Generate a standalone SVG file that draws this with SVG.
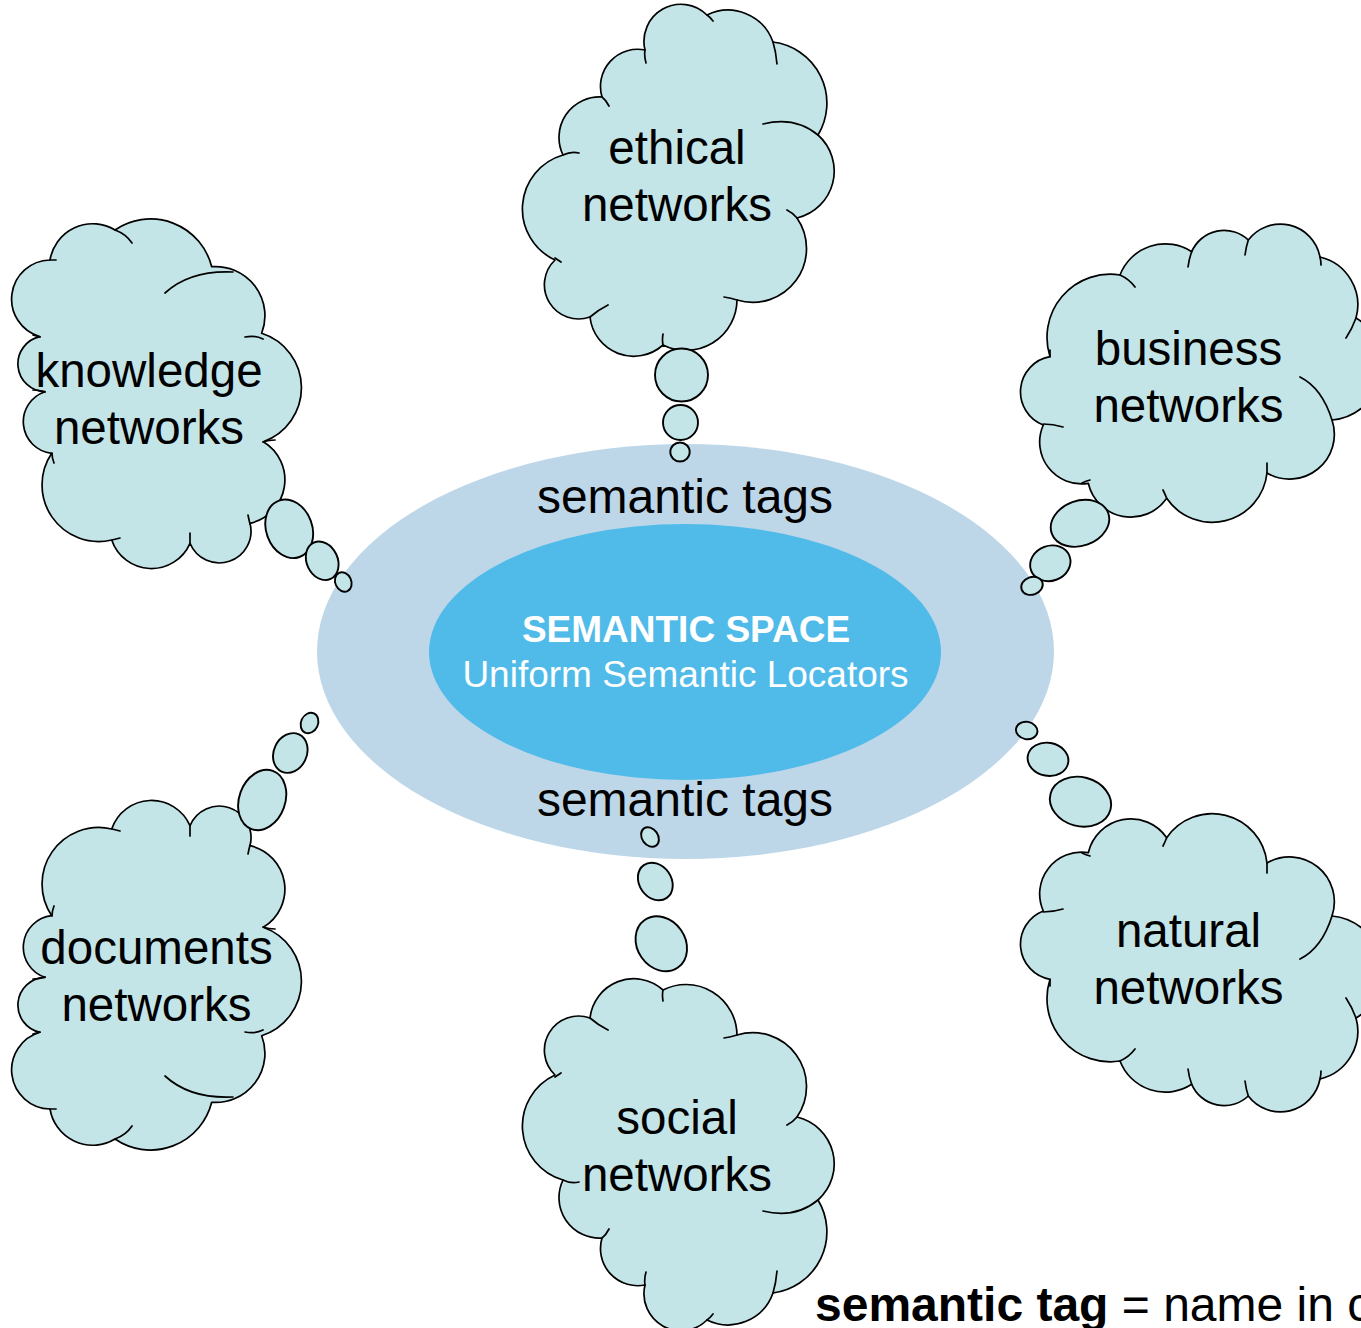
<svg xmlns="http://www.w3.org/2000/svg" width="1361" height="1328" viewBox="0 0 1361 1328">
<style>
.cloud{fill:#C4E5E8;stroke:#000;stroke-width:1.7;stroke-linejoin:round}
.crease{fill:none;stroke:#000;stroke-width:1.7;stroke-linecap:round}
.bubble{fill:#C4E5E8;stroke:#000;stroke-width:1.9}
.t{font-family:"Liberation Sans",Arial,Helvetica,sans-serif;font-size:47.5px;text-anchor:middle;fill:#000}
.tag{font-family:"Liberation Sans",Arial,Helvetica,sans-serif;font-size:48px;text-anchor:middle;fill:#000}
.w{font-family:"Liberation Sans",Arial,Helvetica,sans-serif;font-size:37px;text-anchor:middle;fill:#fff}
</style>
<defs>
<path id="cloudE" d="M555,260 A56.2,56.2 0 0 1 563,155 A40.5,40.5 0 0 1 602,97 A37.2,37.2 0 0 1 645,50 A37,37 0 0 1 707,15 A47.7,47.7 0 0 1 773,42 A61.6,61.6 0 0 1 818,135 A48.2,48.2 0 0 1 797,218 A53.8,53.8 0 0 1 737,300 A51,51 0 0 1 663,345 A43.9,43.9 0 0 1 590,317 A34.2,34.2 0 0 1 555,260 Z"/>
<path id="creaseE" d="M563,155 Q571,151 579,153 M602,97 Q606,100 609,106 M645,50 Q644,56 646,63 M707,15 Q710,17 713,21 M773,42 Q776,52 777,64 M763,124 Q795,116 818,135 M787,210 Q793,213 797,218 M724,297 Q731,298 737,300 M663,345 Q662,340 663,334 M590,317 Q598,310 608,305 M555,258 Q558,260 561,262"/>
<path id="cloudK" d="M50,260 A43.2,43.2 0 0 1 115,230 A63,63 0 0 1 211.7,266.7 A49.2,49.2 0 0 1 261.7,333.3 A57.2,57.2 0 0 1 263.3,441.7 A44.5,44.5 0 0 1 250,523.3 A31.7,31.7 0 0 1 190,543.3 A42,42 0 0 1 111.7,540 A56.6,56.6 0 0 1 51.7,453.3 A31.7,31.7 0 0 1 45,391.7 A27.8,27.8 0 0 1 40,336.7 A39.1,39.1 0 0 1 50,260 Z"/>
<path id="creaseK" d="M115,230 Q126,234 132,243 M165,293 Q190,270 233,272 M245,337 Q255,335 263,339 M263,442 Q269,440 275,440 M248,515 Q249,520 250,524 M190,533 Q190,538 190,543 M120,538 Q116,539 112,540 M52,453 Q52,458 54,463 M33,390 Q40,390 45,392 M40,337 Q36,336 33,335 M50,260 Q53,260 56,260"/>
<path id="cloudB" d="M1050,356.7 A63.2,63.2 0 0 1 1120,275 A48.5,48.5 0 0 1 1191.7,251.7 A35.3,35.3 0 0 1 1248.3,240 A40.3,40.3 0 0 1 1320,257 A49.2,49.2 0 0 1 1356,318 A55.2,55.2 0 0 1 1332,420 A44.8,44.8 0 0 1 1267,473 A55.1,55.1 0 0 1 1166.7,498.3 A43.6,43.6 0 0 1 1088.3,483.3 A41.8,41.8 0 0 1 1043.3,425 A35.6,35.6 0 0 1 1050,356.7 Z"/>
<path id="creaseB" d="M1120,275 Q1129,279 1135,287 M1191.7,251.7 Q1189,259 1188,267 M1248.3,240 Q1246,247 1245,255 M1320,257 Q1321,261 1321,265 M1356,318 Q1352,329 1346,338 M1300,377 Q1322,388 1332,420 M1267,463 Q1267,468 1267,473 M1163,490 Q1165,494 1166.7,498.3 M1082,483 Q1086,481 1090,480 M1063,427 Q1053,424 1043.3,424 M1050,356.7 Q1050,353 1050,350"/>
</defs>

<g id="semantic-space">
<ellipse cx="685.5" cy="651.5" rx="368.5" ry="207.5" fill="#BDD7E9"/>
<ellipse cx="685" cy="652" rx="256" ry="128" fill="#50BBE8"/>
<text class="w" x="686" y="642" font-weight="bold">SEMANTIC SPACE</text>
<text class="w" x="685.5" y="687">Uniform Semantic Locators</text>
<text class="tag" x="685" y="513">semantic tags</text>
<text class="tag" x="685" y="816">semantic tags</text>
</g>

<g id="connectors"></g>

<g id="ethical-networks">
<use href="#cloudE" class="cloud"/>
<use href="#creaseE" class="crease"/>
<circle class="bubble" cx="681.5" cy="375" r="26.5"/>
<circle class="bubble" cx="680.5" cy="422.5" r="17.5"/>
<ellipse class="bubble" cx="680" cy="452" rx="9.7" ry="9.5"/>
<text class="t" x="677" y="164">ethical</text>
<text class="t" x="677" y="221">networks</text>
</g>

<g id="social-networks">
<g transform="translate(0,1335) scale(1,-1)">
<use href="#cloudE" class="cloud"/>
<use href="#creaseE" class="crease"/>
</g>
<ellipse class="bubble" cx="650" cy="837" rx="10.5" ry="8" transform="rotate(55 650 837)"/>
<ellipse class="bubble" cx="655.3" cy="881.5" rx="20" ry="16" transform="rotate(55 655.3 881.5)"/>
<ellipse class="bubble" cx="661.3" cy="943.8" rx="29" ry="24" transform="rotate(55 661.3 943.8)"/>
<text class="t" x="677" y="1134">social</text>
<text class="t" x="677" y="1191">networks</text>
</g>

<g id="knowledge-networks">
<use href="#cloudK" class="cloud"/>
<use href="#creaseK" class="crease"/>
<ellipse class="bubble" cx="289.2" cy="528.8" rx="30" ry="23" transform="rotate(70 289.2 528.8)"/>
<ellipse class="bubble" cx="322.2" cy="560.8" rx="20" ry="15.5" transform="rotate(65 322.2 560.8)"/>
<ellipse class="bubble" cx="343.3" cy="582" rx="10" ry="8" transform="rotate(65 343.3 582)"/>
<text class="t" x="149" y="387">knowledge</text>
<text class="t" x="149" y="444">networks</text>
</g>

<g id="documents-networks">
<g transform="translate(0,1369) scale(1,-1)">
<use href="#cloudK" class="cloud"/>
<use href="#creaseK" class="crease"/>
</g>
<ellipse class="bubble" cx="309.5" cy="723" rx="10.5" ry="8.5" transform="rotate(-65 309.5 723)"/>
<ellipse class="bubble" cx="290.3" cy="753" rx="20.5" ry="16.5" transform="rotate(-65 290.3 753)"/>
<ellipse class="bubble" cx="262.2" cy="800" rx="31" ry="23" transform="rotate(-70 262.2 800)"/>
<text class="t" x="156.5" y="964">documents</text>
<text class="t" x="156.5" y="1021">networks</text>
</g>

<g id="business-networks">
<use href="#cloudB" class="cloud"/>
<use href="#creaseB" class="crease"/>
<ellipse class="bubble" cx="1080" cy="523.3" rx="30" ry="22.5" transform="rotate(-20 1080 523.3)"/>
<ellipse class="bubble" cx="1050.3" cy="563.3" rx="20.5" ry="17.5" transform="rotate(-20 1050.3 563.3)"/>
<ellipse class="bubble" cx="1032" cy="585.8" rx="11" ry="8.8" transform="rotate(-20 1032 585.8)"/>
<text class="t" x="1188.5" y="365">business</text>
<text class="t" x="1188.5" y="422">networks</text>
</g>

<g id="natural-networks">
<g transform="translate(0,1336) scale(1,-1)">
<use href="#cloudB" class="cloud"/>
<use href="#creaseB" class="crease"/>
</g>
<ellipse class="bubble" cx="1026.7" cy="730.5" rx="10.8" ry="8.7" transform="rotate(10 1026.7 730.5)"/>
<ellipse class="bubble" cx="1048" cy="759.3" rx="20.5" ry="16.5" transform="rotate(10 1048 759.3)"/>
<ellipse class="bubble" cx="1080.5" cy="801.7" rx="31" ry="24.5" transform="rotate(15 1080.5 801.7)"/>
<text class="t" x="1188.5" y="947">natural</text>
<text class="t" x="1188.5" y="1004">networks</text>
</g>

<text x="815" y="1321" font-family="Liberation Sans, Arial, Helvetica, sans-serif" font-size="48px" fill="#000"><tspan font-weight="bold">semantic tag</tspan> = name in c</text>
</svg>
